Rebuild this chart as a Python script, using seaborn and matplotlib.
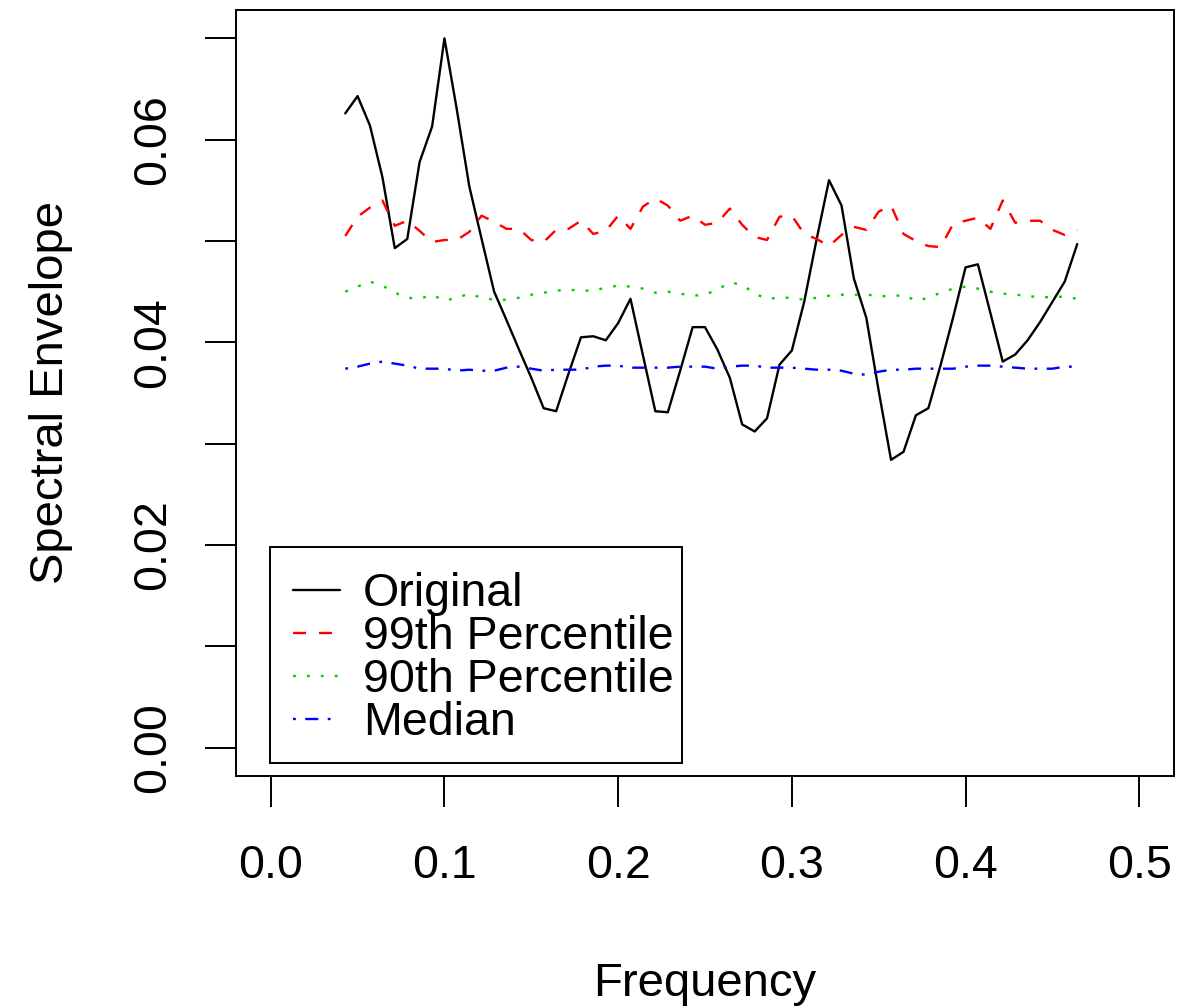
import numpy as np
import pandas as pd
import matplotlib
matplotlib.use("Agg")
import matplotlib.pyplot as plt
from matplotlib.patches import Rectangle
import seaborn as sns

# Frequency grid (k/140, k = 6..65)
freq = [0.0429, 0.0500, 0.0571, 0.0643, 0.0714, 0.0786, 0.0857, 0.0929, 0.1000, 0.1071,
        0.1143, 0.1214, 0.1286, 0.1357, 0.1429, 0.1500, 0.1571, 0.1643, 0.1714, 0.1786,
        0.1857, 0.1929, 0.2000, 0.2071, 0.2143, 0.2214, 0.2286, 0.2357, 0.2429, 0.2500,
        0.2571, 0.2643, 0.2714, 0.2786, 0.2857, 0.2929, 0.3000, 0.3071, 0.3143, 0.3214,
        0.3286, 0.3357, 0.3429, 0.3500, 0.3571, 0.3643, 0.3714, 0.3786, 0.3857, 0.3929,
        0.4000, 0.4071, 0.4143, 0.4214, 0.4286, 0.4357, 0.4429, 0.4500, 0.4571, 0.4643]

original = [0.0626, 0.0643, 0.0614, 0.0563, 0.0493, 0.0502, 0.0578, 0.0613, 0.0700, 0.0630,
            0.0554, 0.0502, 0.0450, 0.0422, 0.0393, 0.0365, 0.0335, 0.0332, 0.0369, 0.0405,
            0.0406, 0.0402, 0.0419, 0.0443, 0.0387, 0.0332, 0.0331, 0.0372, 0.0415, 0.0415,
            0.0393, 0.0365, 0.0319, 0.0312, 0.0325, 0.0378, 0.0392, 0.0440, 0.0502, 0.0560,
            0.0535, 0.0463, 0.0424, 0.0352, 0.0284, 0.0292, 0.0328, 0.0335, 0.0378, 0.0425,
            0.0474, 0.0477, 0.0429, 0.0381, 0.0388, 0.0402, 0.0420, 0.0440, 0.0460, 0.0497]

pct99 = [0.0505, 0.0524, 0.0533, 0.0540, 0.0515, 0.0520, 0.0510, 0.0499, 0.0501, 0.0501,
         0.0509, 0.0525, 0.0519, 0.0512, 0.0512, 0.0501, 0.0499, 0.0511, 0.0512, 0.0520,
         0.0507, 0.0510, 0.0525, 0.0512, 0.0534, 0.0542, 0.0535, 0.0520, 0.0525, 0.0516,
         0.0518, 0.0532, 0.0516, 0.0504, 0.0501, 0.0524, 0.0525, 0.0507, 0.0502, 0.0495,
         0.0506, 0.0514, 0.0511, 0.0529, 0.0535, 0.0507, 0.0500, 0.0495, 0.0494, 0.0517,
         0.0520, 0.0523, 0.0512, 0.0540, 0.0518, 0.0520, 0.0520, 0.0511, 0.0506, 0.0511]

pct90 = [0.0450, 0.0455, 0.0460, 0.0456, 0.0449, 0.0444, 0.0443, 0.0447, 0.0441, 0.0444,
         0.0448, 0.0444, 0.0442, 0.0442, 0.0444, 0.0447, 0.0449, 0.0451, 0.0452, 0.0451,
         0.0451, 0.0454, 0.0456, 0.0455, 0.0453, 0.0449, 0.0450, 0.0448, 0.0446, 0.0447,
         0.0452, 0.0459, 0.0457, 0.0448, 0.0443, 0.0444, 0.0444, 0.0442, 0.0444, 0.0446,
         0.0447, 0.0447, 0.0447, 0.0446, 0.0445, 0.0447, 0.0441, 0.0444, 0.0449, 0.0453,
         0.0455, 0.0453, 0.0450, 0.0448, 0.0447, 0.0446, 0.0444, 0.0445, 0.0445, 0.0443]

median = [0.0374, 0.0376, 0.0379, 0.0381, 0.0379, 0.0377, 0.0374, 0.0374, 0.0374, 0.0372,
          0.0373, 0.0372, 0.0372, 0.0375, 0.0376, 0.0374, 0.0372, 0.0373, 0.0373, 0.0373,
          0.0376, 0.0377, 0.0377, 0.0375, 0.0375, 0.0375, 0.0375, 0.0376, 0.0376, 0.0376,
          0.0374, 0.0376, 0.0377, 0.0377, 0.0375, 0.0375, 0.0375, 0.0374, 0.0373, 0.0373,
          0.0372, 0.0369, 0.0368, 0.0371, 0.0373, 0.0373, 0.0374, 0.0374, 0.0374, 0.0374,
          0.0376, 0.0377, 0.0377, 0.0376, 0.0375, 0.0374, 0.0374, 0.0374, 0.0376, 0.0376]

series_names = ["Original", "99th Percentile", "90th Percentile", "Median"]
x_ticks = [0.0, 0.1, 0.2, 0.3, 0.4, 0.5]
x_tick_labels = ["0.0", "0.1", "0.2", "0.3", "0.4", "0.5"]
y_ticks = [0.00, 0.01, 0.02, 0.03, 0.04, 0.05, 0.06, 0.07]
y_tick_labels = ["0.00", "", "0.02", "", "0.04", "", "0.06", ""]

sns.set_theme(style="ticks")
plt.rcParams["font.family"] = ["Liberation Sans", "DejaVu Sans"]

W, H = 1179, 1006
fig = plt.figure(figsize=(W / 100, H / 100), dpi=100)
ax_left, ax_right, ax_top, ax_bottom = 236, 1174, 10, 776
ax = fig.add_axes([ax_left / W, 1 - ax_bottom / H,
                   (ax_right - ax_left) / W, (ax_bottom - ax_top) / H])

lw = 1.7
styles = {
    "Original": dict(color="black", linestyle="-"),
    "99th Percentile": dict(color="#FF0000", linestyle=(0, (5.5, 5.5))),
    "90th Percentile": dict(color="#00CD00", linestyle=(0, (1.2, 4.7))),
    "Median": dict(color="#0000FF", linestyle=(0, (1.2, 4.0, 5.5, 4.0))),
}
values = {"Original": original, "99th Percentile": pct99,
          "90th Percentile": pct90, "Median": median}

for name in series_names:
    df = pd.DataFrame({"Frequency": freq, "value": values[name]})
    sns.lineplot(data=df, x="Frequency", y="value", ax=ax, label=name,
                 linewidth=lw, **styles[name])

ax.set_xlim(-0.02, 0.52)
ax.set_ylim(-0.0028, 0.0728)
ax.set_xticks(x_ticks)
ax.set_xticklabels(x_tick_labels)
ax.set_yticks(y_ticks)
ax.set_yticklabels(y_tick_labels, rotation=90, va="center")

for sp in ax.spines.values():
    sp.set_visible(True)
    sp.set_color("black")
    sp.set_linewidth(1.4)

ax.tick_params(axis="both", direction="out", length=22, width=1.4, color="black",
               labelsize=33.5, labelcolor="black")
ax.tick_params(axis="x", pad=27)
ax.tick_params(axis="y", pad=22)

ax.set_xlabel("Frequency", fontsize=34, labelpad=53, color="black")
ax.set_ylabel("Spectral Envelope", fontsize=34, labelpad=42, color="black")


def ax_coords(px, py):
    return ((px - ax_left) / (ax_right - ax_left),
            (ax_bottom - py) / (ax_bottom - ax_top))


# Legend entries without frame, boxed separately
lx, ly = ax_coords(293, 572)
leg = ax.legend(loc="upper left", bbox_to_anchor=(lx, ly), borderaxespad=0,
                fontsize=33.5, frameon=False, handlelength=1.0, handletextpad=0.5,
                labelspacing=-0.02, borderpad=0, labelcolor="black")

bx0, by0 = ax_coords(270, 763)
bx1, by1 = ax_coords(682, 547)
ax.add_patch(Rectangle((bx0, by0), bx1 - bx0, by1 - by0, transform=ax.transAxes,
                       fill=False, edgecolor="black", linewidth=1.4, zorder=5))

fig.savefig("out.png", dpi=100, facecolor="white")
